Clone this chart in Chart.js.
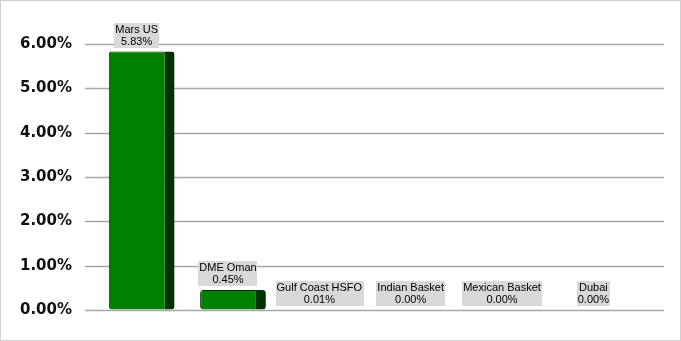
<!DOCTYPE html>
<html>
<head>
<meta charset="utf-8">
<script src="https://cdn.jsdelivr.net/npm/chart.js@4/dist/chart.umd.min.js"></script>
<style>
  html, body { margin: 0; padding: 0; background: #fff; }
  #wrap { width: 681px; height: 341px; box-sizing: border-box; border: 1px solid #d0d0d0; }
  canvas { display: block; }
</style>
</head>
<body>
<div id="wrap"><canvas id="chart" width="679" height="339"></canvas></div>
<script>
// chart data
const grades = ['Mars US', 'DME Oman', 'Gulf Coast HSFO', 'Indian Basket', 'Mexican Basket', 'Dubai'];
const shares = [5.83, 0.45, 0.01, 0.00, 0.00, 0.00];
const yTicks = [0, 1, 2, 3, 4, 5, 6];

// horizontal gridlines, drawn a bit wider than the plot like the original
const gridPlugin = {
  id: 'grid',
  beforeDatasetsDraw(chart) {
    const ctx = chart.ctx;
    const y = chart.scales.y;
    const a = chart.chartArea;
    ctx.save();
    ctx.strokeStyle = '#a6a6a6';
    ctx.lineWidth = 1.5;
    yTicks.forEach(t => {
      const py = Math.round(y.getPixelForValue(t)) + 0.5;
      ctx.beginPath();
      ctx.moveTo(a.left - 11, py);
      ctx.lineTo(a.right + 20, py);
      ctx.stroke();
    });
    ctx.restore();
  }
};

// grey label boxes above each bar: name + value
const labelPlugin = {
  id: 'boxLabels',
  afterDatasetsDraw(chart) {
    const ctx = chart.ctx;
    const meta = chart.getDatasetMeta(0);
    ctx.save();
    ctx.font = '11px "Liberation Sans", Arial, sans-serif';
    ctx.textAlign = 'center';
    ctx.textBaseline = 'middle';
    meta.data.forEach((bar, i) => {
      const name = grades[i];
      const val = shares[i].toFixed(2) + '%';
      const w = Math.max(ctx.measureText(name).width, ctx.measureText(val).width) + 2;
      const h = 25;
      const cx = bar.x - 5;
      const bottom = Math.min(bar.y, bar.base) - 4;
      ctx.fillStyle = '#d9d9d9';
      ctx.fillRect(Math.round(cx - w / 2), Math.round(bottom - h), Math.round(w), h);
      ctx.fillStyle = '#000';
      ctx.fillText(name, cx, bottom - h + 7);
      ctx.fillText(val, cx, bottom - h + 19);
    });
    ctx.restore();
  }
};

new Chart(document.getElementById('chart'), {
  type: 'bar',
  data: {
    labels: grades,
    datasets: [{
      data: shares,
      backgroundColor: '#008000',
      borderColor: '#003300',
      borderWidth: { left: 1, top: 1, right: 10, bottom: 0 },
      borderSkipped: false,
      borderRadius: 3,
      categoryPercentage: 1,
      barPercentage: 0.72
    }]
  },
  options: {
    responsive: false,
    animation: false,
    layout: { padding: { top: 43, right: 36, bottom: 30, left: 0 } },
    plugins: { legend: { display: false }, tooltip: { enabled: false } },
    scales: {
      x: { display: false },
      y: {
        min: 0,
        max: 6,
        afterFit: s => { s.width = 95; },
        // invisible tick marks just push the labels left of the plot
        grid: { color: 'transparent', drawOnChartArea: false, drawTicks: true, tickLength: 24 },
        border: { display: false },
        ticks: {
          stepSize: 1,
          padding: 0,
          color: '#111',
          font: { family: '"DejaVu Sans", Verdana, sans-serif', size: 15, weight: 'bold' },
          callback: v => v.toFixed(2) + '%'
        }
      }
    }
  },
  plugins: [gridPlugin, labelPlugin]
});
</script>
</body>
</html>
